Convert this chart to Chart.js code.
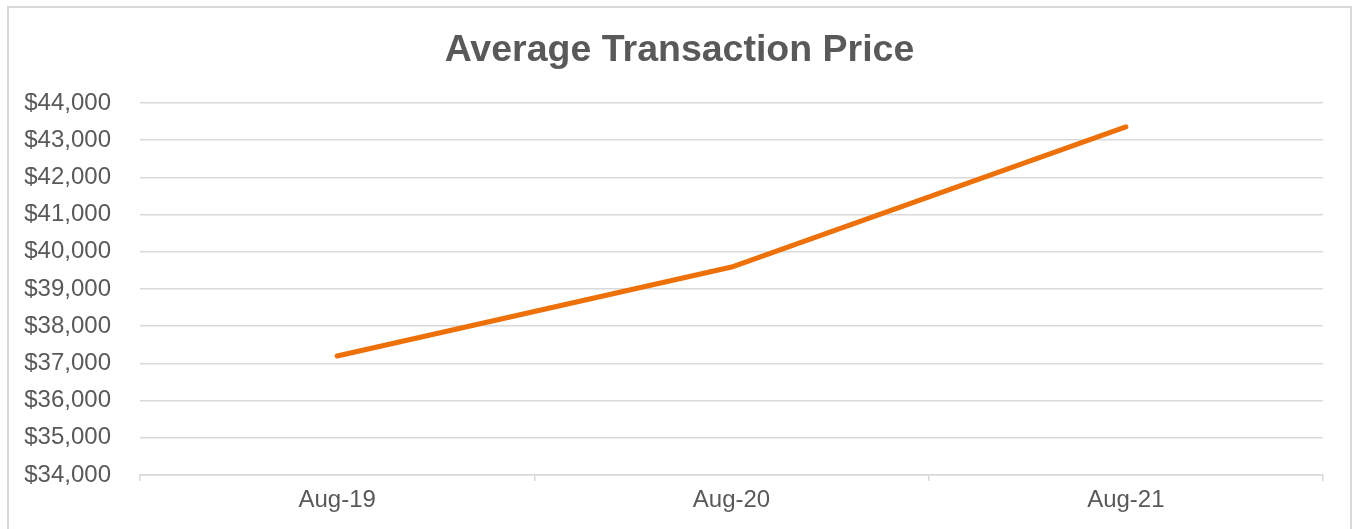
<!DOCTYPE html>
<html>
<head>
<meta charset="utf-8">
<script src="https://cdn.jsdelivr.net/npm/chart.js@4"></script>
<style>
  html, body { margin: 0; padding: 0; background: #ffffff; overflow: hidden; }
  #frame {
    position: absolute; left: 7px; top: 6px;
    width: 1341px; height: 540px;
    border: 2px solid #d9d9d9; background: #ffffff;
  }
  #wrap { position: absolute; left: 0; top: 0; width: 1341px; height: 521px; }
</style>
</head>
<body>
<div id="frame"><div id="wrap"><canvas id="c"></canvas></div></div>
<script>
const categories = ["Aug-19", "Aug-20", "Aug-21"];
const avgPrice = [37200, 39590, 43360];
const yMin = 34000, yMax = 44000, yStep = 1000;
const chartTitle = "Average Transaction Price";

const FONT = "'Liberation Sans', Arial, sans-serif";
const TEXT = "#595959";
const GRID = "#d9d9d9";

new Chart(document.getElementById("c"), {
  type: "line",
  data: {
    labels: categories,
    datasets: [{
      label: chartTitle,
      data: avgPrice,
      borderColor: "#ED7008",
      backgroundColor: "#ED7008",
      borderWidth: 5,
      borderCapStyle: "round",
      borderJoinStyle: "round",
      pointRadius: 0,
      tension: 0,
      fill: false,
      yAxisID: "y"
    }]
  },
  options: {
    responsive: true,
    maintainAspectRatio: false,
    animation: false,
    layout: { padding: { left: 0, right: 0, top: 0, bottom: 0 } },
    plugins: {
      legend: { display: false },
      tooltip: { enabled: false },
      title: {
        display: true,
        text: chartTitle,
        color: TEXT,
        font: { family: FONT, size: 37.5, weight: "bold", lineHeight: 1.2 },
        padding: { top: 20, bottom: 30 }
      }
    },
    scales: {
      x: {
        offset: true,
        grid: { offset: true, drawOnChartArea: false, drawTicks: true, tickLength: 6, color: GRID, lineWidth: 1.5 },
        border: { display: true, color: GRID, width: 1.5 },
        ticks: { color: TEXT, font: { family: FONT, size: 24 }, padding: 5, maxRotation: 0 },
        afterFit: (s) => { s.height = 54; }
      },
      y: {
        min: yMin, max: yMax,
        grid: { color: GRID, lineWidth: 1.5, drawTicks: false },
        border: { display: false },
        ticks: {
          stepSize: yStep,
          color: TEXT,
          font: { family: FONT, size: 24 },
          padding: 29,
          callback: (v) => "$" + Number(v).toLocaleString("en-US")
        },
        afterFit: (s) => { s.width = 131; }
      },
      yRight: {
        position: "right",
        min: yMin, max: yMax,
        grid: { display: false, drawTicks: false },
        border: { display: false },
        ticks: { display: false },
        afterFit: (s) => { s.width = 27; }
      }
    }
  }
});
</script>
</body>
</html>
